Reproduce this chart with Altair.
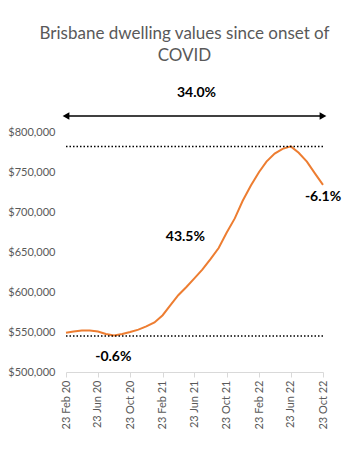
import altair as alt
import pandas as pd

# ---- data ----
dates = [
    "2020-02-23", "2020-03-23", "2020-04-23", "2020-05-23", "2020-06-23", "2020-07-23",
    "2020-08-23", "2020-09-23", "2020-10-23", "2020-11-23", "2020-12-23", "2021-01-23",
    "2021-02-23", "2021-03-23", "2021-04-23", "2021-05-23", "2021-06-23", "2021-07-23",
    "2021-08-23", "2021-09-23", "2021-10-23", "2021-11-23", "2021-12-23", "2022-01-23",
    "2022-02-23", "2022-03-23", "2022-04-23", "2022-05-23", "2022-06-23", "2022-07-23",
    "2022-08-23", "2022-09-23", "2022-10-23",
]
values = [
    549000, 550500, 552000, 552000, 550500, 547500,
    545500, 547500, 550000, 553000, 557000, 562000,
    571000, 583000, 596000, 606000, 617000, 628000,
    641000, 655000, 674000, 692000, 714000, 733000,
    750000, 763000, 773000, 779000, 782000, 774000,
    763000, 748000, 734000,
]

tick_dates = [
    "2020-02-23", "2020-06-23", "2020-10-23", "2021-02-23", "2021-06-23",
    "2021-10-23", "2022-02-23", "2022-06-23", "2022-10-23",
]
y_ticks = [500000, 550000, 600000, 650000, 700000, 750000, 800000]

start_date = "2020-02-23"
end_date = "2022-10-23"
ref_levels = [782000, 545000]
arrow_level = 820000

label_texts = ["34.0%", "43.5%", "-6.1%", "-0.6%"]
label_dates = ["2021-07-01", "2021-05-20", "2022-10-23", "2020-08-20"]
label_values = [848750, 668750, 718750, 519000]

title_lines = ["Brisbane dwelling values since onset of", "COVID"]

# ---- tables ----
def t(d):
    return d + "T00:00:00"

df = pd.DataFrame({"date": [t(d) for d in dates], "value": values})
refs = pd.DataFrame({"start": [t(start_date)] * len(ref_levels),
                     "end": [t(end_date)] * len(ref_levels),
                     "value": ref_levels})
arrow = pd.DataFrame({"start": [t(start_date)], "end": [t(end_date)], "value": [arrow_level]})
heads = pd.DataFrame({"date": [t(start_date), t(end_date)],
                      "value": [arrow_level, arrow_level],
                      "shape": ["triangle-left", "triangle-right"],
                      "off": [3, -3]})
labels = pd.DataFrame({"date": [t(d) for d in label_dates],
                       "value": label_values, "text": label_texts})

FONT = "Lato"
GREY = "#595959"

x_scale = alt.Scale(domain=[alt.DateTime(year=2020, month=2, date=23),
                            alt.DateTime(year=2022, month=10, date=23)])
y_scale = alt.Scale(domain=[500000, 800000], nice=False, zero=False)

x_axis = alt.Axis(
    values=[alt.DateTime(year=int(d[:4]), month=int(d[5:7]), date=int(d[8:])) for d in tick_dates],
    tickCount=len(tick_dates),
    format="%d %b %y", labelAngle=-90, labelFont=FONT, labelFontSize=11,
    labelColor=GREY, domainColor="#d9d9d9", tickColor="#d9d9d9", tickSize=5,
    grid=False, title=None, labelPadding=3, labelOverlap=False,
)
y_axis = alt.Axis(
    values=y_ticks, tickCount=len(y_ticks), format="$,.0f", labelFont=FONT, labelFontSize=11,
    labelColor=GREY, domain=False, ticks=False, grid=False, title=None,
    labelPadding=11, labelOverlap=False,
)

line = alt.Chart(df).mark_line(color="#ED7D31", strokeWidth=2).encode(
    x=alt.X("date:T", scale=x_scale, axis=x_axis),
    y=alt.Y("value:Q", scale=y_scale, axis=y_axis),
)

ref_rules = alt.Chart(refs).mark_rule(color="black", strokeWidth=1.5, strokeDash=[1.5, 2]).encode(
    x=alt.X("start:T", scale=x_scale),
    x2="end:T",
    y=alt.Y("value:Q", scale=y_scale),
)

arrow_rule = alt.Chart(arrow).mark_rule(color="black", strokeWidth=1.5, clip=False).encode(
    x=alt.X("start:T", scale=x_scale),
    x2="end:T",
    y=alt.Y("value:Q", scale=y_scale),
)

arrow_heads = alt.Chart(heads).mark_point(filled=True, color="black", size=60, opacity=1, clip=False).encode(
    x=alt.X("date:T", scale=x_scale),
    y=alt.Y("value:Q", scale=y_scale),
    shape=alt.Shape("shape:N", scale=None, legend=None),
    xOffset=alt.XOffset("off:Q", scale=None),
)

texts = alt.Chart(labels).mark_text(font=FONT, fontSize=14, fontWeight="bold", color="black", clip=False).encode(
    x=alt.X("date:T", scale=x_scale),
    y=alt.Y("value:Q", scale=y_scale),
    text="text:N",
)

chart = alt.layer(line, ref_rules, arrow_rule, arrow_heads, texts).properties(
    width=257, height=240,
    title=alt.TitleParams(title_lines, font=FONT, fontSize=17, fontWeight="normal",
                          color=GREY, anchor="middle", dx=-10, offset=21, lineHeight=22),
    autosize=alt.AutoSizeParams(type="none"),
    padding={"left": 66, "top": 132, "right": 31, "bottom": 77},
).configure_view(stroke=None)

chart.save("out.html", embed_options={"renderer": "svg", "actions": False})
